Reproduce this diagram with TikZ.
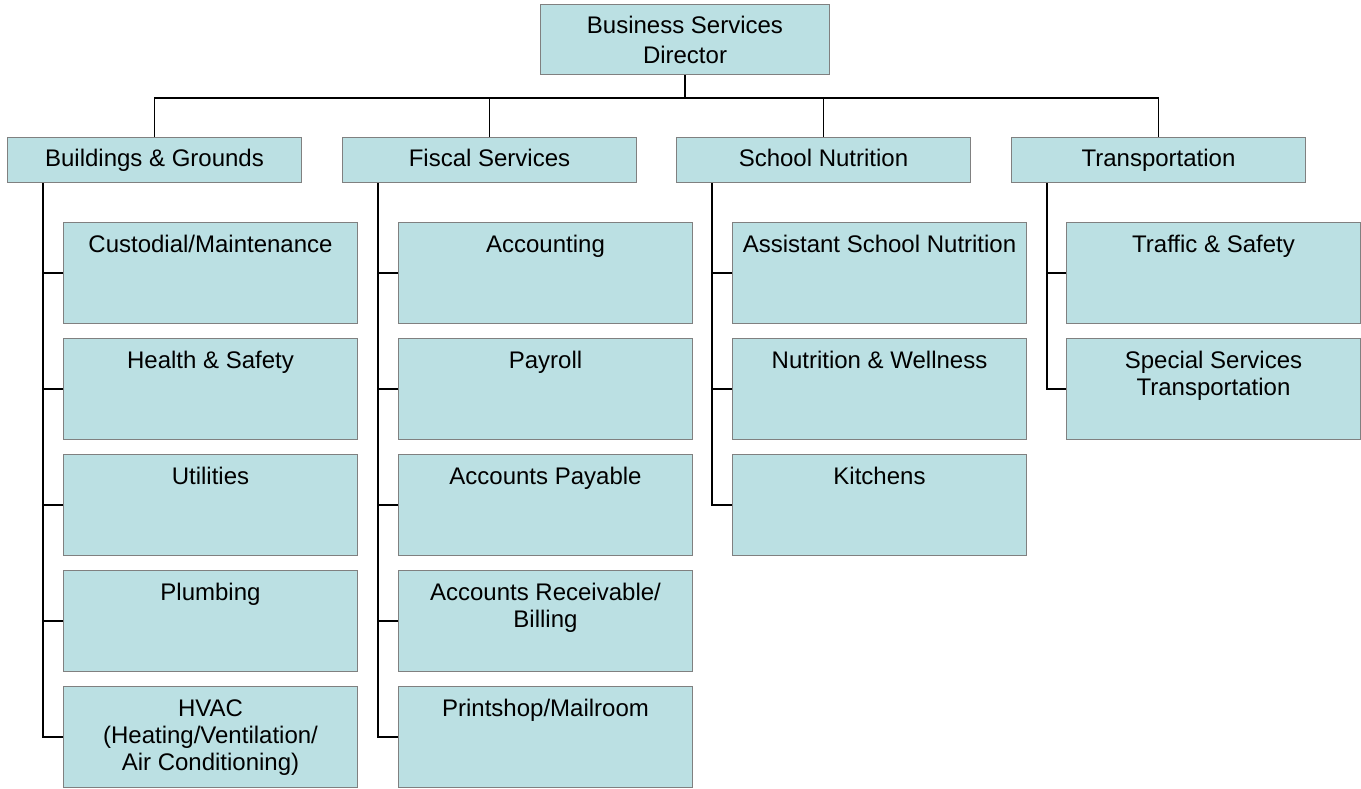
\documentclass[tikz,border=0pt]{standalone}
\usepackage{fontspec}
\setmainfont{Liberation Sans}
\usepackage{xcolor}
\definecolor{boxfill}{RGB}{187,224,227}
\definecolor{boxline}{RGB}{128,128,128}
\newcommand{\unittext}[1]{\parbox[t][50.5pt][t]{147pt}{\centering\rule{0pt}{15pt}#1}}

\begin{document}
\begin{tikzpicture}[x=0.5pt,y=-0.5pt,
    font=\fontsize{12pt}{13.5pt}\selectfont,
    box/.style={draw=boxline,line width=0.5pt,fill=boxfill,inner sep=0pt,anchor=north west},
    head/.style={box,minimum width=144.5pt,minimum height=35pt,align=center},
    dept/.style={box,minimum width=147pt,minimum height=22.5pt,text height=8.8pt,text depth=2.6pt},
    unit/.style={box,minimum width=147pt,minimum height=50.5pt},
    link/.style={draw=black,line width=0.6pt}]
    \useasboundingbox (0,0) rectangle (1361,788);

    % director and departments
    \node[head] (dir) at (540,4) {Business Services\\[1.5pt]Director};
    \node[dept] (bg) at (7,137) {Buildings \& Grounds};
    \node[dept] (fs) at (342,137) {Fiscal Services};
    \node[dept] (sn) at (676,137) {School Nutrition};
    \node[dept] (tr) at (1011,137) {Transportation};

    % units
    \node[unit] (bg-1) at (63,222) {\unittext{Custodial/Maintenance}};
    \node[unit] (bg-2) at (63,338) {\unittext{Health \& Safety}};
    \node[unit] (bg-3) at (63,454) {\unittext{Utilities}};
    \node[unit] (bg-4) at (63,570) {\unittext{Plumbing}};
    \node[unit] (bg-5) at (63,686) {\unittext{HVAC\\(Heating/Ventilation/\\Air Conditioning)}};

    \node[unit] (fs-1) at (398,222) {\unittext{Accounting}};
    \node[unit] (fs-2) at (398,338) {\unittext{Payroll}};
    \node[unit] (fs-3) at (398,454) {\unittext{Accounts Payable}};
    \node[unit] (fs-4) at (398,570) {\unittext{Accounts Receivable/\\Billing}};
    \node[unit] (fs-5) at (398,686) {\unittext{Printshop/Mailroom}};

    \node[unit] (sn-1) at (732,222) {\unittext{Assistant School Nutrition}};
    \node[unit] (sn-2) at (732,338) {\unittext{Nutrition \& Wellness}};
    \node[unit] (sn-3) at (732,454) {\unittext{Kitchens}};

    \node[unit] (tr-1) at (1066,222) {\unittext{Traffic \& Safety}};
    \node[unit] (tr-2) at (1066,338) {\unittext{Special Services\\Transportation}};

    % connectors
    \coordinate (bus) at (684,98);
    \path[link]
    (dir.south) -- (dir.south |- bus)
    (bg.north) -- (bg.north |- bus) -- (tr.north |- bus) -- (tr.north)
    (fs.north) -- (fs.north |- bus)
    (sn.north) -- (sn.north |- bus);

    \coordinate (bg-t) at ([xshift=18pt]bg.south west);
    \coordinate (fs-t) at ([xshift=18pt]fs.south west);
    \coordinate (sn-t) at ([xshift=18pt]sn.south west);
    \coordinate (tr-t) at ([xshift=18pt]tr.south west);
    \path[link]
    (bg-t) |- (bg-5.west)
    (fs-t) |- (fs-5.west)
    (sn-t) |- (sn-3.west)
    (tr-t) |- (tr-2.west);
    \foreach \u in {bg-1,bg-2,bg-3,bg-4}
      \draw[link] (\u.west) -- (\u.west -| bg-t);
    \foreach \u in {fs-1,fs-2,fs-3,fs-4}
      \draw[link] (\u.west) -- (\u.west -| fs-t);
    \foreach \u in {sn-1,sn-2}
      \draw[link] (\u.west) -- (\u.west -| sn-t);
    \draw[link] (tr-1.west) -- (tr-1.west -| tr-t);
\end{tikzpicture}
\end{document}
